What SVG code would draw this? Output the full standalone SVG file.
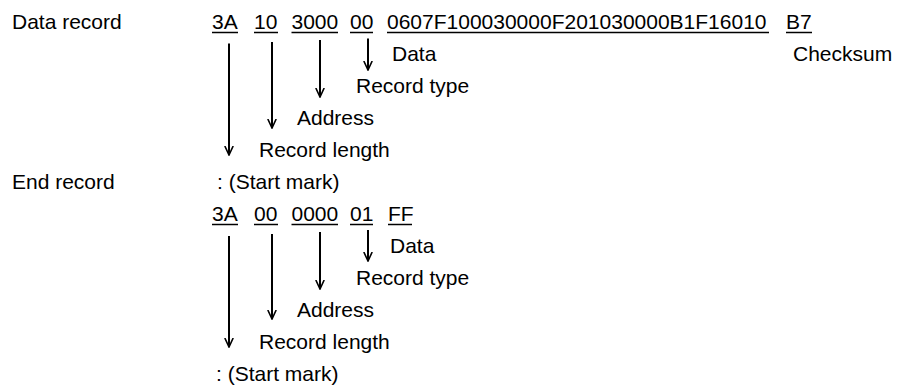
<svg xmlns="http://www.w3.org/2000/svg" width="903" height="385" viewBox="0 0 903 385">
<defs>
<style>
text{font-family:"Liberation Sans",Arial,sans-serif;font-size:21px;fill:#000}
.u{stroke:#000;stroke-width:1.5}
.ar{stroke:#000;stroke-width:2;fill:none}
</style>
<marker id="ah" viewBox="0 0 10 10" refX="9.5" refY="5" markerWidth="10" markerHeight="10" markerUnits="userSpaceOnUse" orient="auto">
<polyline points="0.5,0.8 9.5,5 0.5,9.2" fill="none" stroke="#000" stroke-width="1.6"/>
</marker>
</defs>
<rect width="903" height="385" fill="#fff"/>
<g id="data-record">
<text x="12" y="29">Data record</text>
<text x="212" y="29">3A</text>
<text x="254" y="29">10</text>
<text x="291.5" y="29">3000</text>
<text x="350" y="29">00</text>
<text x="387" y="29">0607F100030000F201030000B1F16010</text>
<text x="786" y="29">B7</text>
<line class="u" x1="212" y1="32.5" x2="238" y2="32.5"/>
<line class="u" x1="254" y1="32.5" x2="278" y2="32.5"/>
<line class="u" x1="291.5" y1="32.5" x2="338" y2="32.5"/>
<line class="u" x1="350" y1="32.5" x2="373" y2="32.5"/>
<line class="u" x1="387" y1="32.5" x2="769" y2="32.5"/>
<line class="u" x1="786" y1="32.5" x2="812" y2="32.5"/>
<text x="392" y="61">Data</text>
<text x="793" y="61">Checksum</text>
<text x="356" y="93">Record type</text>
<text x="297" y="125">Address</text>
<text x="259" y="157">Record length</text>
</g>
<g id="end-record">
<text x="12" y="189">End record</text>
<text x="217" y="189">: (Start mark)</text>
<text x="212" y="221">3A</text>
<text x="254" y="221">00</text>
<text x="291.5" y="221">0000</text>
<text x="350" y="221">01</text>
<text x="388" y="221">FF</text>
<line class="u" x1="212" y1="224.5" x2="238" y2="224.5"/>
<line class="u" x1="254" y1="224.5" x2="278" y2="224.5"/>
<line class="u" x1="291.5" y1="224.5" x2="338" y2="224.5"/>
<line class="u" x1="350" y1="224.5" x2="373" y2="224.5"/>
<line class="u" x1="388" y1="224.5" x2="412" y2="224.5"/>
<text x="390" y="253">Data</text>
<text x="356" y="285">Record type</text>
<text x="297" y="317">Address</text>
<text x="259" y="349">Record length</text>
<text x="216" y="381">: (Start mark)</text>
</g>
<g id="connectors">
<line class="ar" x1="229" y1="43.5" x2="229" y2="155" marker-end="url(#ah)"/>
<line class="ar" x1="272" y1="42" x2="272" y2="128" marker-end="url(#ah)"/>
<line class="ar" x1="320" y1="40" x2="320" y2="97" marker-end="url(#ah)"/>
<line class="ar" x1="368" y1="38.5" x2="368" y2="70" marker-end="url(#ah)"/>
<line class="ar" x1="229" y1="236" x2="229" y2="347" marker-end="url(#ah)"/>
<line class="ar" x1="272" y1="234" x2="272" y2="319" marker-end="url(#ah)"/>
<line class="ar" x1="320" y1="232" x2="320" y2="289" marker-end="url(#ah)"/>
<line class="ar" x1="368" y1="230" x2="368" y2="261" marker-end="url(#ah)"/>
</g>
</svg>
